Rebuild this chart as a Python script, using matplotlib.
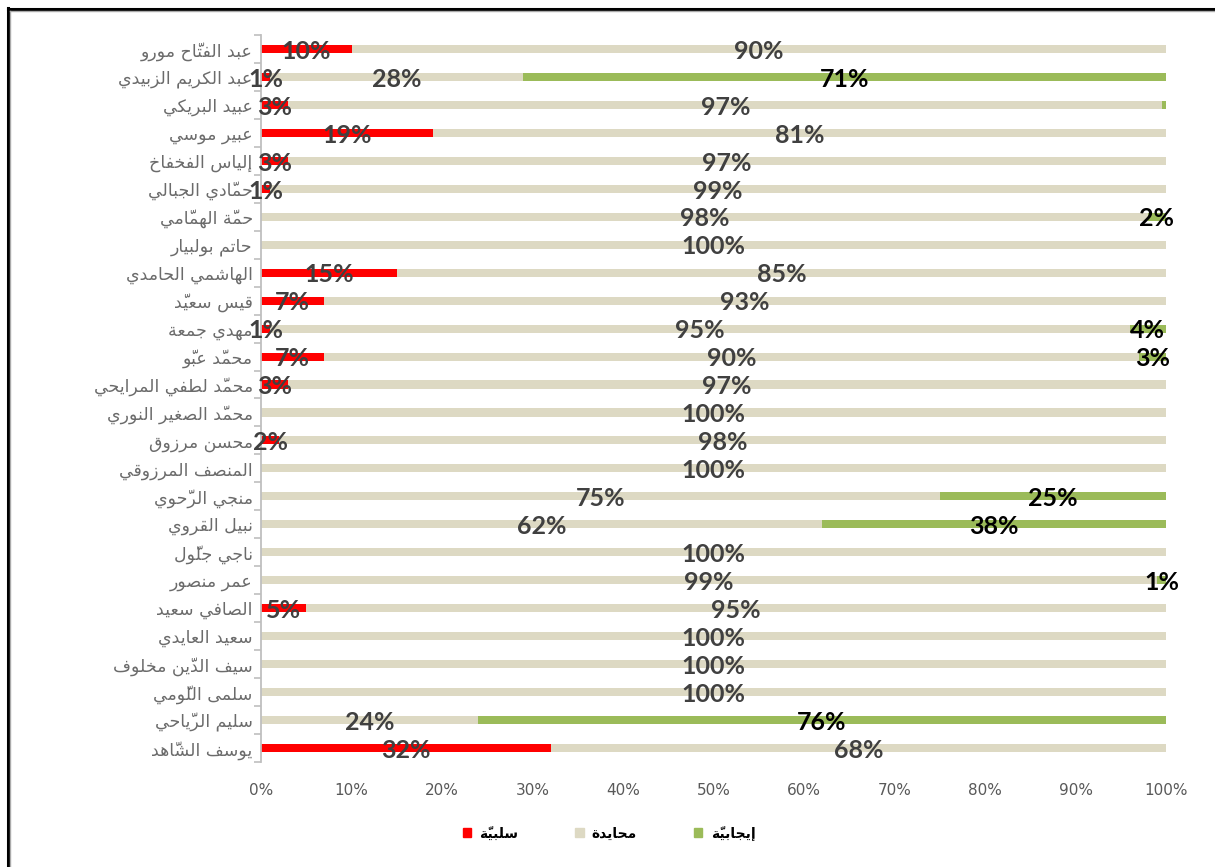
import matplotlib
matplotlib.use("Agg")
import matplotlib.pyplot as plt
from matplotlib.lines import Line2D
from matplotlib.patches import Patch

# ---------------- data ----------------
names = [
    "عبد الفتّاح مورو", "عبد الكريم الزبيدي", "عبيد البريكي", "عبير موسي",
    "إلياس الفخفاخ", "حمّادي الجبالي", "حمّة الهمّامي", "حاتم بولبيار",
    "الهاشمي الحامدي", "قيس سعيّد", "مهدي جمعة", "محمّد عبّو",
    "محمّد لطفي المرايحي", "محمّد الصغير النوري", "محسن مرزوق", "المنصف المرزوقي",
    "منجي الرّحوي", "نبيل القروي", "ناجي جلّول", "عمر منصور",
    "الصافي سعيد", "سعيد العايدي", "سيف الدّين مخلوف", "سلمى اللّومي",
    "سليم الرّياحي", "يوسف الشّاهد",
]
negative = [10, 1, 3, 19, 3, 1, 0, 0, 15, 7, 1, 7, 3, 0, 2, 0, 0, 0, 0, 0, 5, 0, 0, 0, 0, 32]
neutral = [90, 28, 96.6, 81, 97, 99, 98, 100, 85, 93, 95, 90, 97, 100, 98, 100, 75, 62, 100, 99, 95, 100, 100, 100, 24, 68]
positive = [0, 71, 0.4, 0, 0, 0, 2, 0, 0, 0, 4, 3, 0, 0, 0, 0, 25, 38, 0, 1, 0, 0, 0, 0, 76, 0]
series_names = ["سلبيّة", "محايدة", "إيجابيّة"]
xticks = [0, 10, 20, 30, 40, 50, 60, 70, 80, 90, 100]

# ---------------- arabic shaping ----------------
_tbl = [('\u0621', 0xFE80, 1), ('\u0622', 0xFE81, 2), ('\u0623', 0xFE83, 2), ('\u0624', 0xFE85, 2),
        ('\u0625', 0xFE87, 2), ('\u0626', 0xFE89, 4), ('\u0627', 0xFE8D, 2), ('\u0628', 0xFE8F, 4),
        ('\u0629', 0xFE93, 2), ('\u062A', 0xFE95, 4), ('\u062B', 0xFE99, 4), ('\u062C', 0xFE9D, 4),
        ('\u062D', 0xFEA1, 4), ('\u062E', 0xFEA5, 4), ('\u062F', 0xFEA9, 2), ('\u0630', 0xFEAB, 2),
        ('\u0631', 0xFEAD, 2), ('\u0632', 0xFEAF, 2), ('\u0633', 0xFEB1, 4), ('\u0634', 0xFEB5, 4),
        ('\u0635', 0xFEB9, 4), ('\u0636', 0xFEBD, 4), ('\u0637', 0xFEC1, 4), ('\u0638', 0xFEC5, 4),
        ('\u0639', 0xFEC9, 4), ('\u063A', 0xFECD, 4), ('\u0641', 0xFED1, 4), ('\u0642', 0xFED5, 4),
        ('\u0643', 0xFED9, 4), ('\u0644', 0xFEDD, 4), ('\u0645', 0xFEE1, 4), ('\u0646', 0xFEE5, 4),
        ('\u0647', 0xFEE9, 4), ('\u0648', 0xFEED, 2), ('\u0649', 0xFEEF, 2), ('\u064A', 0xFEF1, 4)]
FORMS = {c: (s, n) for c, s, n in _tbl}
LAMALEF = {'\u0622': 0xFEF5, '\u0623': 0xFEF7, '\u0625': 0xFEF9, '\u0627': 0xFEFB}


def is_mark(ch):
    return '\u064B' <= ch <= '\u0652' or ch == '\u0670'


def shape(text):
    clusters = []
    for ch in text:
        if is_mark(ch) and clusters:
            clusters[-1][1].append(ch)
        else:
            clusters.append([ch, []])
    out = []
    i = 0
    while i < len(clusters):
        base, marks = clusters[i]
        if base in FORMS:
            prev = clusters[i - 1][0] if i > 0 else None
            jp = prev in FORMS and FORMS[prev][1] == 4
            nxt = clusters[i + 1][0] if i + 1 < len(clusters) else None
            if base == '\u0644' and nxt in LAMALEF:
                g = chr(LAMALEF[nxt] + (1 if jp else 0))
                out.append(''.join(marks + clusters[i + 1][1]) + g)
                i += 2
                continue
            s, n = FORMS[base]
            jn = n == 4 and nxt in FORMS
            if n == 1:
                f = 0
            elif jp and jn:
                f = 3
            elif jp:
                f = 1
            elif jn:
                f = 2
            else:
                f = 0
            out.append(''.join(marks) + chr(s + f))
        else:
            out.append(''.join(marks) + base)
        i += 1
    return ''.join(reversed(out))


# ---------------- plot ----------------
RED, TAN, GREEN = "#FF0000", "#DDD9C3", "#9BBB59"
W, H, DPI = 1215, 867, 100
fig = plt.figure(figsize=(W / DPI, H / DPI), dpi=DPI)
ax = fig.add_axes([261 / W, 1 - 762 / H, (1166 - 261) / W, (762 - 35) / H])

y = list(range(len(names)))
bh = 0.29
left_neu = negative
left_pos = [a + b for a, b in zip(negative, neutral)]
ax.barh(y, negative, height=bh, color=RED)
ax.barh(y, neutral, left=left_neu, height=bh, color=TAN)
ax.barh(y, positive, left=left_pos, height=bh, color=GREEN)

lab_font = dict(family="Lato", weight="bold", fontsize=18)
for i in y:
    segs = [(0, negative[i], "#404040"), (left_neu[i], neutral[i], "#404040"),
            (left_pos[i], positive[i], "#000000")]
    for start, val, col in segs:
        if val >= 0.5:
            ax.text(start + val / 2, i + 0.08, f"{round(val)}%", ha="center", va="center",
                    color=col, **lab_font)

ax.set_xlim(0, 100)
ax.set_ylim(len(names) - 0.5, -0.5)
ax.set_xticks(xticks)
ax.set_xticklabels([f"{t}%" for t in xticks], color="#595959", fontsize=11, family="DejaVu Sans")
ax.tick_params(axis="x", length=0, pad=15)
ax.set_yticks(y)
ax.set_yticklabels([shape(n) for n in names], color="#6b6b6b", fontsize=12.5, family="DejaVu Sans")
ax.tick_params(axis="y", which="major", length=0, pad=6)
ax.set_yticks([k - 0.5 for k in range(len(names) + 1)], minor=True)
ax.tick_params(axis="y", which="minor", length=5, color="#BFBFBF", width=1.2)

for s in ["top", "right", "bottom"]:
    ax.spines[s].set_visible(False)
ax.spines["left"].set_color("#BFBFBF")
ax.spines["left"].set_linewidth(1.3)

handles = [Patch(color=c) for c in (RED, TAN, GREEN)]
fig.legend(handles, [shape(s) for s in series_names], loc="center", ncol=3,
           bbox_to_anchor=(609 / W, 1 - 833 / H), frameon=False,
           prop=dict(family="DejaVu Sans", weight="bold", size=10),
           handlelength=0.6, handleheight=0.6, handletextpad=0.6, columnspacing=4.1)

# outer frame (left and top edges)
fig.add_artist(Line2D([7.5 / W, 7.5 / W], [0, 1 - 8 / H], transform=fig.transFigure,
                      color="black", lw=2.2))
fig.add_artist(Line2D([7.5 / W, 1], [1 - 9 / H, 1 - 9 / H], transform=fig.transFigure,
                      color="black", lw=2.2))
fig.add_artist(Line2D([10 / W, 10 / W], [0, 1 - 11 / H], transform=fig.transFigure,
                      color="#AAAAAA", lw=1.0))
fig.add_artist(Line2D([10 / W, 1], [1 - 11 / H, 1 - 11 / H], transform=fig.transFigure,
                      color="#AAAAAA", lw=1.0))

fig.savefig("out.png", dpi=DPI)
